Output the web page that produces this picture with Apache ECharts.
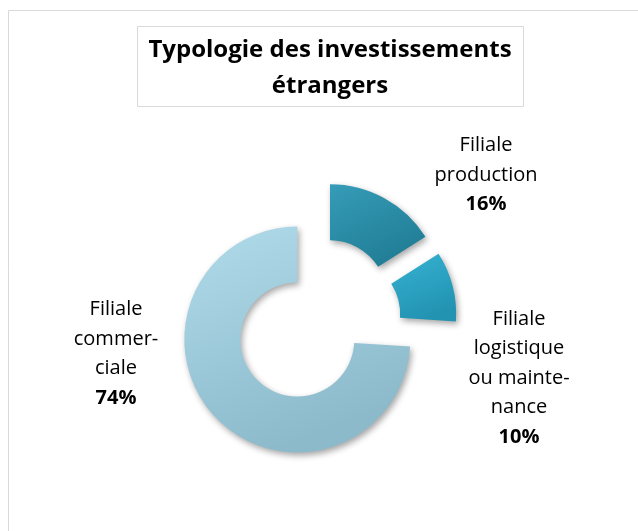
<!DOCTYPE html>
<html>
<head>
<meta charset="utf-8">
<script src="https://cdn.jsdelivr.net/npm/echarts@6/dist/echarts.min.js"></script>
<style>
  html, body { margin: 0; padding: 0; background: #fff; }
  #chart { width: 638px; height: 531px; }
</style>
</head>
<body>
<div id="chart"></div>
<script>
// data
var categories = ['Filiale production', 'Filiale logistique ou maintenance', 'Filiale commerciale'];
var labelLines = [
  ['Filiale', 'production'],
  ['Filiale', 'logistique', 'ou mainte-', 'nance'],
  ['Filiale', 'commer-', 'ciale']
];
var values = [16, 10, 74];
var titleText = 'Typologie des investissements\nétrangers';

// colours per slice: [top, bottom]
var colors = [
  ['#369cb8', '#227f98'],
  ['#36b2d2', '#2393b2'],
  ['#b0dbea', '#8cbacb']
];
// label anchor (centre of text block)
var labelPos = [[486, 175], [519, 378], [116, 354]];

var chart = echarts.init(document.getElementById('chart'));

var seriesData = values.map(function (v, i) {
  return {
    name: categories[i],
    value: v,
    selected: true,
    itemStyle: {
      color: new echarts.graphic.LinearGradient(0, 0, 0.4, 1, [
        { offset: 0, color: colors[i][0] },
        { offset: 1, color: colors[i][1] }
      ])
    }
  };
});

var richStyles = {
  n: { fontFamily: 'Open Sans', fontSize: 20, lineHeight: 29.5, fill: '#000', align: 'center' },
  b: { fontFamily: 'Open Sans', fontSize: 20, fontWeight: 'bold', lineHeight: 29.5, fill: '#000', align: 'center' }
};

var labelGraphics = values.map(function (v, i) {
  var lines = labelLines[i].map(function (t) { return '{n|' + t + '}'; });
  lines.push('{b|' + v + '%}');
  return {
    type: 'text',
    style: {
      text: lines.join('\n'),
      x: labelPos[i][0],
      y: labelPos[i][1],
      textAlign: 'center',
      textVerticalAlign: 'middle',
      rich: richStyles
    }
  };
});

var option = {
  animation: false,
  graphic: [
    {
      type: 'rect',
      shape: { x: 8.5, y: 10.5, width: 700, height: 600 },
      style: { fill: 'none', stroke: '#d9d9d9', lineWidth: 1 },
      z: -10
    },
    {
      type: 'rect',
      shape: { x: 137.5, y: 26.5, width: 386, height: 80 },
      style: { fill: '#fff', stroke: '#d9d9d9', lineWidth: 1 }
    },
    {
      type: 'text',
      style: {
        text: titleText,
        x: 330,
        y: 68,
        textAlign: 'center',
        textVerticalAlign: 'middle',
        font: 'bold 24px "Open Sans"',
        lineHeight: 36,
        fill: '#000'
      }
    }
  ].concat(labelGraphics),
  series: [
    {
      type: 'pie',
      center: [317, 321],
      radius: [57, 113],
      startAngle: 90,
      clockwise: true,
      selectedMode: 'multiple',
      selectedOffset: 27,
      data: seriesData,
      itemStyle: {
        shadowBlur: 6,
        shadowColor: 'rgba(0,0,0,0.35)',
        shadowOffsetX: 2,
        shadowOffsetY: 3
      },
      select: {
        itemStyle: {
          shadowBlur: 6,
          shadowColor: 'rgba(0,0,0,0.35)',
          shadowOffsetX: 2,
          shadowOffsetY: 3
        }
      },
      emphasis: { disabled: true },
      label: { show: false },
      labelLine: { show: false }
    }
  ]
};

chart.setOption(option);
</script>
</body>
</html>
